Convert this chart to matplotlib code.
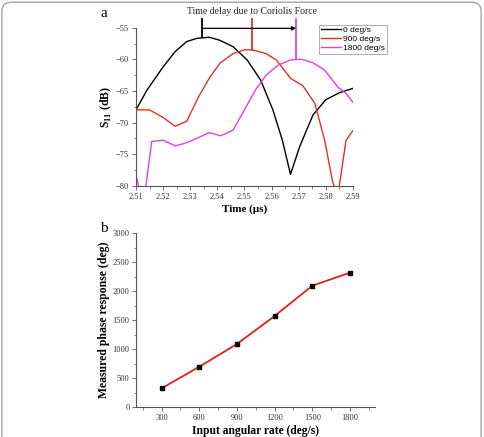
import matplotlib
matplotlib.use("Agg")
import matplotlib.pyplot as plt
from matplotlib.patches import FancyBboxPatch

# ---- data (panel a) ----
t_0 = [2.510, 2.514, 2.520, 2.5244, 2.5287, 2.5323, 2.537, 2.541, 2.5458, 2.551, 2.556, 2.5605, 2.564, 2.567, 2.5704, 2.5753, 2.580, 2.585, 2.590]
s_0 = [-68.0, -64.9, -61.2, -58.8, -57.2, -56.7, -56.5, -57.0, -58.0, -60.1, -63.3, -68.0, -72.8, -78.2, -73.8, -68.8, -66.4, -65.3, -64.6]

t_900 = [2.510, 2.515, 2.520, 2.5244, 2.5287, 2.533, 2.537, 2.541, 2.5458, 2.550, 2.553, 2.558, 2.5618, 2.567, 2.5716, 2.576, 2.5796, 2.5826, 2.5845, 2.5875, 2.590]
s_900 = [-68.0, -68.0, -69.2, -70.6, -69.8, -66.0, -63.0, -60.6, -59.1, -58.5, -58.5, -59.1, -60.1, -63.0, -64.2, -67.0, -72.8, -79.5, -81.5, -72.8, -71.3]

t_1800 = [2.510, 2.5115, 2.5135, 2.5158, 2.520, 2.5245, 2.5287, 2.533, 2.537, 2.5413, 2.5458, 2.550, 2.554, 2.558, 2.5625, 2.567, 2.571, 2.575, 2.5796, 2.5845, 2.5875, 2.590]
s_1800 = [-78.3, -81.0, -80.5, -73.0, -72.8, -73.7, -73.2, -72.4, -71.6, -72.1, -71.2, -68.0, -64.9, -62.5, -60.9, -60.1, -60.0, -60.5, -61.7, -64.4, -65.4, -66.8]

series_labels = ["0 deg/s", "900 deg/s", "1800 deg/s"]
peak_times = [2.5344, 2.5529, 2.5691]
peak_vals = [-56.5, -58.5, -60.0]

# ---- data (panel b) ----
rate = [300, 600, 900, 1200, 1500, 1800]
phase = [323, 696, 1088, 1572, 2095, 2320]

serif = ["Liberation Serif", "DejaVu Serif"]
sans = ["Liberation Sans", "DejaVu Sans"]
plt.rcParams["font.family"] = serif

fig = plt.figure(figsize=(4.84, 4.37), dpi=100)

cols = ["black", "#e0302a", "#e040e6"]

# ---------------- panel a ----------------
ax1 = fig.add_axes([0.281, 0.575, 0.448, 0.3616])
for t, s, c, lab in zip([t_0, t_900, t_1800], [s_0, s_900, s_1800], cols, series_labels):
    ax1.plot(t, s, color=c, lw=1.0, label=lab)
ax1.set_xlim(2.51, 2.59)
ax1.set_ylim(-80, -55)
ax1.set_xticks([2.51 + 0.01 * i for i in range(9)])
ax1.set_xticklabels(["%.2f" % (2.51 + 0.01 * i) for i in range(9)])
ax1.set_yticks([-80, -75, -70, -65, -60, -55])
ax1.set_xticks([2.515 + 0.01 * i for i in range(8)], minor=True)
ax1.set_yticks([-77.5, -72.5, -67.5, -62.5, -57.5], minor=True)
for sp in ["top", "right"]:
    ax1.spines[sp].set_visible(False)
for sp in ["left", "bottom"]:
    ax1.spines[sp].set_color("#555555")
    ax1.spines[sp].set_linewidth(0.8)
ax1.tick_params(which="major", direction="out", length=3, width=0.6, labelsize=6, colors="#555555", labelcolor="#333333", pad=2)
ax1.tick_params(which="minor", direction="out", length=1.8, width=0.5, colors="#555555")
ax1.set_xlabel("Time (μs)", fontsize=8, fontweight="bold", labelpad=3)
ax1.set_ylabel("S$_{\\mathregular{11}}$ (dB)", fontsize=8.5, fontweight="bold", labelpad=1)

# annotation vertical markers and arrow
for pt, pv, c in zip(peak_times, peak_vals, cols):
    ax1.plot([pt, pt], [pv, -53.7], color=c, lw=1.3, clip_on=False)
ax1.annotate("", xy=(peak_times[2], -55.1), xytext=(peak_times[0], -55.1),
             arrowprops=dict(arrowstyle="-|>", color="black", lw=0.9, mutation_scale=6,
                             shrinkA=0, shrinkB=0), annotation_clip=False)
fig.text(0.521, 0.973, "Time delay due to Coriolis Force", ha="center", va="center",
         fontsize=7, color="#222222")

leg = fig.legend(loc="upper left", bbox_to_anchor=(0.659, 0.943),
                 prop={"family": sans, "size": 6.0}, frameon=True, fancybox=False,
                 handlelength=2.4, handletextpad=0.3, borderpad=0.2, labelspacing=0.12,
                 borderaxespad=0)
leg.get_frame().set_edgecolor("#888888")
leg.get_frame().set_linewidth(0.6)

fig.text(0.215, 0.970, "a", fontsize=11, ha="center", va="center")

# ---------------- panel b ----------------
ax2 = fig.add_axes([0.282, 0.0686, 0.493, 0.3975])
ax2.plot(rate, phase, color="#e0201a", lw=1.3, marker="s", markersize=3.5,
         markerfacecolor="black", markeredgecolor="black")
ax2.set_xlim(100, 2000)
ax2.set_ylim(0, 3000)
ax2.set_xticks(rate)
ax2.set_xticks([150 + 300 * i for i in range(7)], minor=True)
ax2.set_yticks([0, 500, 1000, 1500, 2000, 2500, 3000])
ax2.set_yticks([250 + 500 * i for i in range(6)], minor=True)
for sp in ["top", "right"]:
    ax2.spines[sp].set_visible(False)
for sp in ["left", "bottom"]:
    ax2.spines[sp].set_color("#555555")
    ax2.spines[sp].set_linewidth(0.8)
ax2.tick_params(which="major", direction="out", length=3, width=0.6, labelsize=6, colors="#555555", labelcolor="#333333", pad=2)
ax2.tick_params(which="minor", direction="out", length=1.8, width=0.5, colors="#555555")
ax2.set_xlabel("Input angular rate (deg/s)", fontsize=8.3, fontweight="bold", labelpad=2)
ax2.set_ylabel("Measured phase response (deg)", fontsize=8.5, fontweight="bold", labelpad=2)

fig.text(0.215, 0.478, "b", fontsize=11, ha="center", va="center")

# outer rounded frame
frame = FancyBboxPatch((0.004, -0.05), 0.99, 1.045, boxstyle="round,pad=0,rounding_size=0.02",
                       transform=fig.transFigure, fill=False, edgecolor="#999999", lw=0.9)
fig.patches.append(frame)

fig.savefig("out.png", dpi=100)
